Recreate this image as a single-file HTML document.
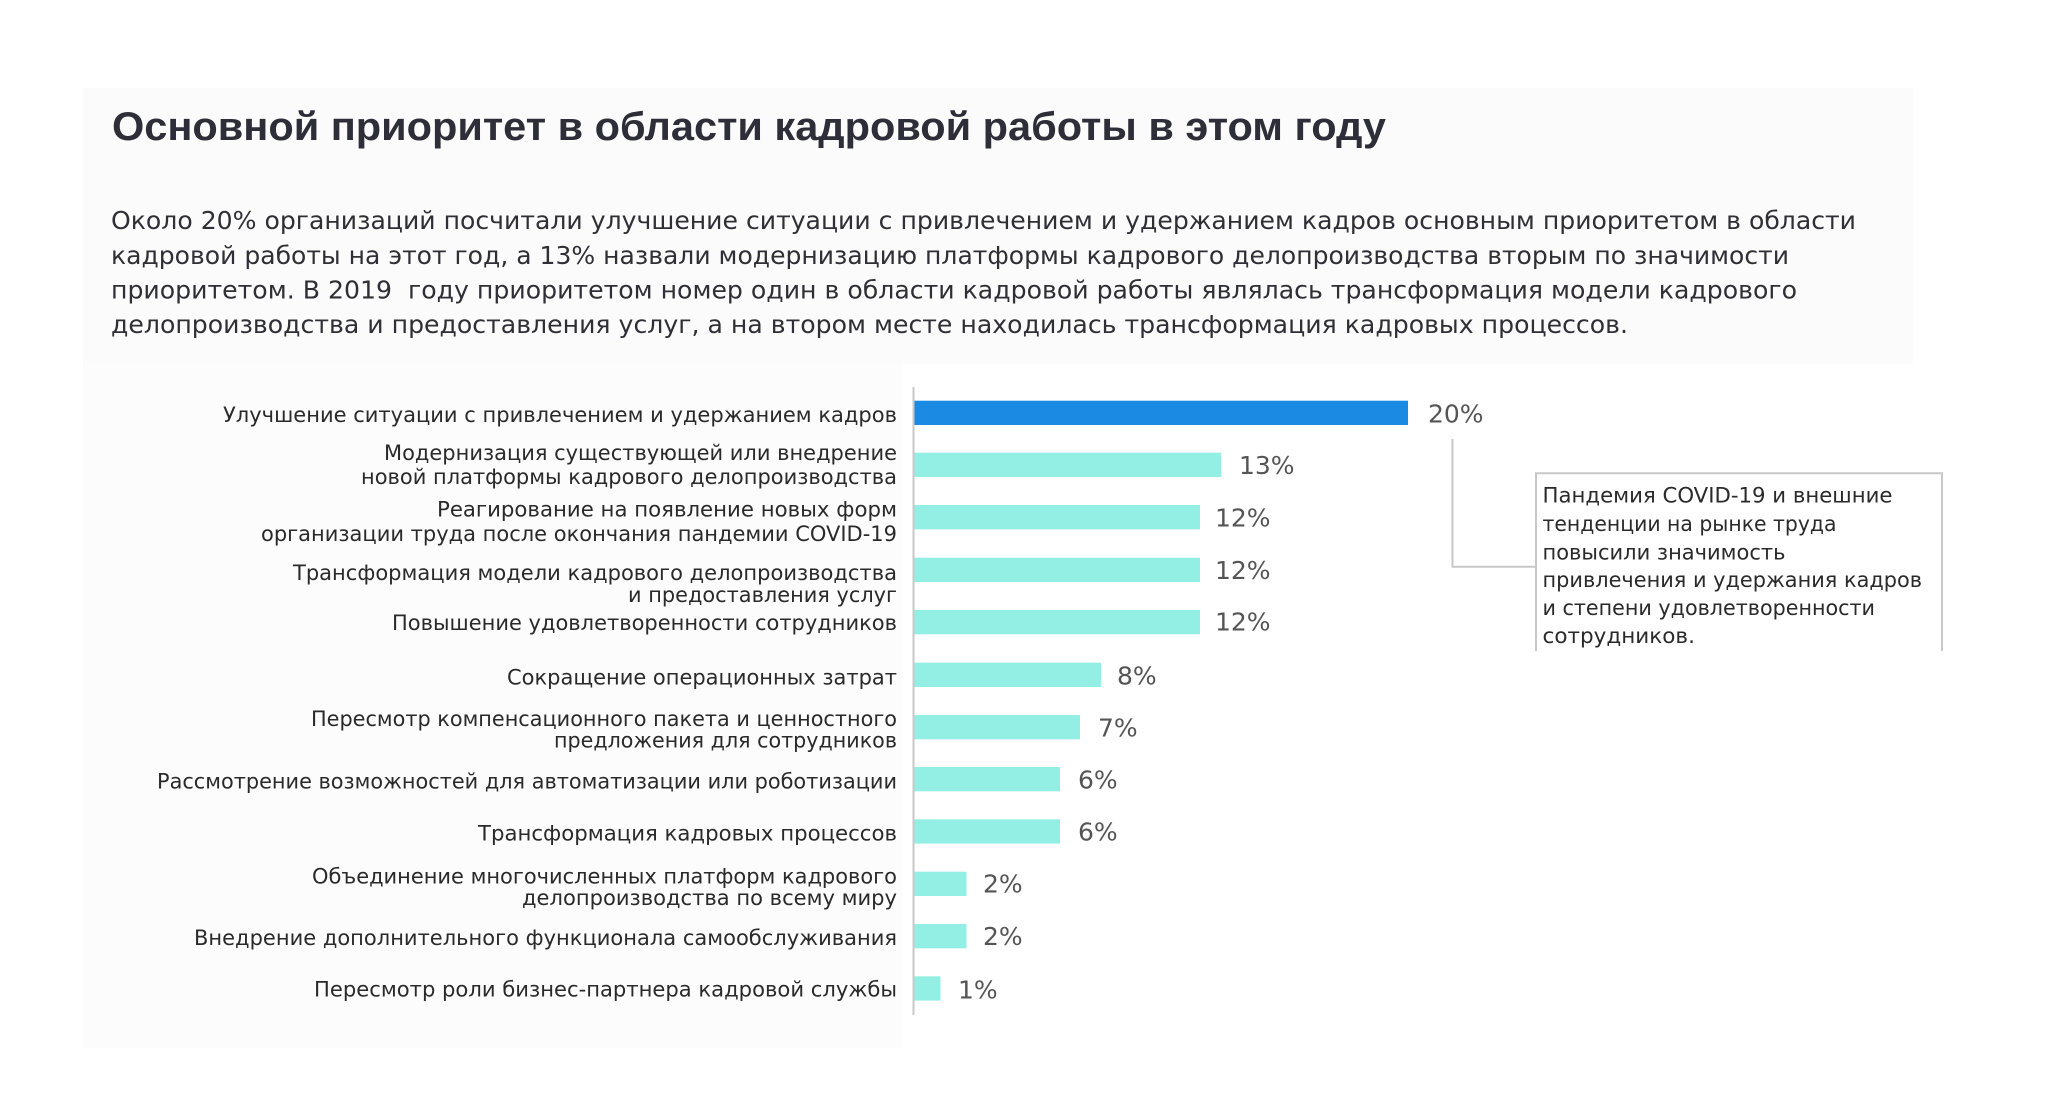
<!DOCTYPE html>
<html>
<head>
<meta charset="utf-8">
<style>
  html, body { margin:0; padding:0; background:#ffffff; }
  svg { display:block; }
  text { font-family: "DejaVu Sans", "Liberation Sans", sans-serif; }
</style>
</head>
<body>
<svg width="2048" height="1107" viewBox="0 0 2048 1107" xmlns="http://www.w3.org/2000/svg">
  <rect x="0" y="0" width="2048" height="1107" fill="#ffffff"/>
  <!-- faint background panels -->
  <rect x="83" y="88" width="1830" height="276" fill="#fbfbfb"/>
  <rect x="83" y="364" width="820" height="684" fill="#fcfcfc"/>

  <!-- Title -->
  <text x="112" y="140" font-size="40" font-weight="bold" fill="#2e2e38" style="font-family:'Liberation Sans','DejaVu Sans',sans-serif" textLength="1274" lengthAdjust="spacingAndGlyphs">Основной приоритет в области кадровой работы в этом году</text>

  <!-- Paragraph -->
  <g font-size="25" fill="#2f2f35">
    <text x="111" y="229" textLength="1745" lengthAdjust="spacingAndGlyphs">Около 20% организаций посчитали улучшение ситуации с привлечением и удержанием кадров основным приоритетом в области</text>
    <text x="111" y="264" textLength="1678" lengthAdjust="spacingAndGlyphs">кадровой работы на этот год, а 13% назвали модернизацию платформы кадрового делопроизводства вторым по значимости</text>
    <text x="111" y="298.5" textLength="1686" lengthAdjust="spacingAndGlyphs" xml:space="preserve">приоритетом. В 2019  году приоритетом номер один в области кадровой работы являлась трансформация модели кадрового</text>
    <text x="111" y="333" textLength="1517" lengthAdjust="spacingAndGlyphs">делопроизводства и предоставления услуг, а на втором месте находилась трансформация кадровых процессов.</text>
  </g>

  <!-- Category labels -->
  <g font-size="21.5" fill="#2a2a2a" text-anchor="end">
    <text x="897" y="422" textLength="674" lengthAdjust="spacingAndGlyphs">Улучшение ситуации с привлечением и удержанием кадров</text>
    <text x="897" y="460" textLength="513" lengthAdjust="spacingAndGlyphs">Модернизация существующей или внедрение</text>
    <text x="897" y="484" textLength="536" lengthAdjust="spacingAndGlyphs">новой платформы кадрового делопроизводства</text>
    <text x="897" y="516.7" textLength="460" lengthAdjust="spacingAndGlyphs">Реагирование на появление новых форм</text>
    <text x="897" y="541" textLength="636" lengthAdjust="spacingAndGlyphs">организации труда после окончания пандемии COVID-19</text>
    <text x="897" y="580" textLength="604" lengthAdjust="spacingAndGlyphs">Трансформация модели кадрового делопроизводства</text>
    <text x="897" y="602" textLength="269" lengthAdjust="spacingAndGlyphs">и предоставления услуг</text>
    <text x="897" y="630" textLength="505" lengthAdjust="spacingAndGlyphs">Повышение удовлетворенности сотрудников</text>
    <text x="897" y="684.7" textLength="390" lengthAdjust="spacingAndGlyphs">Сокращение операционных затрат</text>
    <text x="897" y="726" textLength="586" lengthAdjust="spacingAndGlyphs">Пересмотр компенсационного пакета и ценностного</text>
    <text x="897" y="747.5" textLength="343" lengthAdjust="spacingAndGlyphs">предложения для сотрудников</text>
    <text x="897" y="788.3" textLength="740" lengthAdjust="spacingAndGlyphs">Рассмотрение возможностей для автоматизации или роботизации</text>
    <text x="897" y="840.7" textLength="419" lengthAdjust="spacingAndGlyphs">Трансформация кадровых процессов</text>
    <text x="897" y="883.3" textLength="585" lengthAdjust="spacingAndGlyphs">Объединение многочисленных платформ кадрового</text>
    <text x="897" y="905" textLength="375" lengthAdjust="spacingAndGlyphs">делопроизводства по всему миру</text>
    <text x="897" y="945" textLength="703" lengthAdjust="spacingAndGlyphs">Внедрение дополнительного функционала самообслуживания</text>
    <text x="897" y="996.7" textLength="583" lengthAdjust="spacingAndGlyphs">Пересмотр роли бизнес-партнера кадровой службы</text>
  </g>

  <!-- Bars -->
  <rect x="914" y="400.7" width="494" height="24.3" fill="#1a8ae3"/>
  <g fill="#93efe4">
    <rect x="914" y="452.7" width="307" height="24.3"/>
    <rect x="914" y="505" width="286" height="24.3"/>
    <rect x="914" y="557.7" width="286" height="24.3"/>
    <rect x="914" y="610" width="286" height="24.3"/>
    <rect x="914" y="662.7" width="187" height="24.3"/>
    <rect x="914" y="715" width="166" height="24.3"/>
    <rect x="914" y="767" width="146" height="24.3"/>
    <rect x="914" y="819.3" width="146" height="24.3"/>
    <rect x="914" y="871.7" width="52.5" height="24.3"/>
    <rect x="914" y="924" width="52.5" height="24.3"/>
    <rect x="914" y="976.3" width="26.5" height="24.3"/>
  </g>

  <!-- Axis -->
  <line x1="913.5" y1="387" x2="913.5" y2="1015" stroke="#c8c8c8" stroke-width="2"/>

  <!-- Value labels -->
  <g font-size="25" fill="#555555" style="font-family:'Liberation Sans','DejaVu Sans',sans-serif">
    <text x="1428" y="422.7">20%</text>
    <text x="1239" y="474">13%</text>
    <text x="1215" y="526.7">12%</text>
    <text x="1215" y="579">12%</text>
    <text x="1215" y="630.7">12%</text>
    <text x="1117" y="684.7">8%</text>
    <text x="1098" y="736.7">7%</text>
    <text x="1078" y="788.7">6%</text>
    <text x="1078" y="840.3">6%</text>
    <text x="983" y="892.3">2%</text>
    <text x="983" y="945">2%</text>
    <text x="958" y="998.3">1%</text>
  </g>

  <!-- Annotation connector and box -->
  <path d="M1452.5 439 V566.7 H1536" fill="none" stroke="#c8c8c8" stroke-width="2"/>
  <rect x="1536" y="473.3" width="406" height="178" fill="#ffffff"/>
  <path d="M1536 651 V473.3 H1942 V651" fill="none" stroke="#c8c8c8" stroke-width="2"/>
  <g font-size="21.5" fill="#2a2a2a">
    <text x="1542.5" y="502.3" textLength="350" lengthAdjust="spacingAndGlyphs">Пандемия COVID-19 и внешние</text>
    <text x="1542.5" y="531" textLength="294" lengthAdjust="spacingAndGlyphs">тенденции на рынке труда</text>
    <text x="1542.5" y="559.3" textLength="243" lengthAdjust="spacingAndGlyphs">повысили значимость</text>
    <text x="1542.5" y="587" textLength="379.6" lengthAdjust="spacingAndGlyphs">привлечения и удержания кадров</text>
    <text x="1542.5" y="615" textLength="332.5" lengthAdjust="spacingAndGlyphs">и степени удовлетворенности</text>
    <text x="1542.5" y="643">сотрудников.</text>
  </g>
</svg>
</body>
</html>
